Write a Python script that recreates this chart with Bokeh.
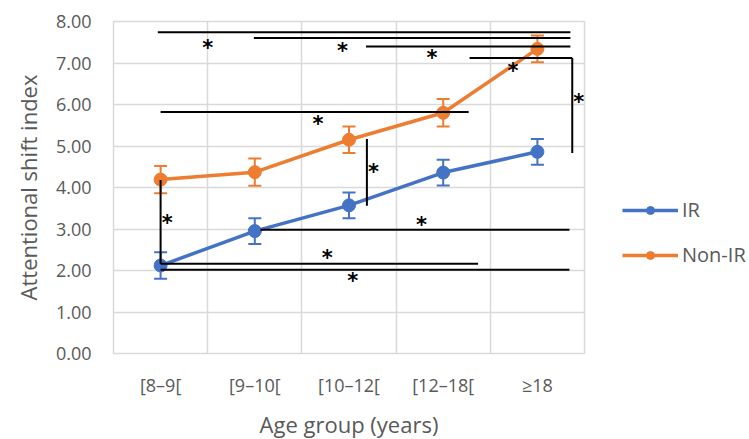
from bokeh.plotting import figure
from bokeh.models import (ColumnDataSource, FixedTicker, Whisker, TeeHead, Legend, LegendItem)
from bokeh.core.properties import value
from bokeh.embed import file_html
from bokeh.resources import INLINE

categories = ["[8–9[", "[9–10[", "[10–12[", "[12–18[", "≥18"]
positions = [1, 2, 3, 4, 5]
ir_mean = [2.12, 2.95, 3.57, 4.36, 4.86]
ir_err = [0.32, 0.31, 0.31, 0.31, 0.31]
nonir_mean = [4.19, 4.37, 5.15, 5.80, 7.34]
nonir_err = [0.33, 0.33, 0.32, 0.33, 0.32]

# significance brackets (data coordinates)
sig_x0 = [0.97, 1.99, 3.18, 4.28, 5.37, 1.00, 3.19, 1.00, 2.06, 1.00, 1.00]
sig_x1 = [5.35, 5.35, 5.35, 5.37, 5.37, 4.27, 3.19, 1.00, 5.34, 4.37, 5.34]
sig_y0 = [7.74, 7.60, 7.40, 7.12, 4.83, 5.82, 3.56, 2.16, 2.98, 2.16, 2.02]
sig_y1 = [7.74, 7.60, 7.40, 7.12, 7.12, 5.82, 5.17, 4.18, 2.98, 2.16, 2.02]
star_x = [1.50, 2.93, 3.88, 4.74, 5.44, 2.67, 3.26, 1.07, 2.77, 3.77, 3.04]
star_y = [7.45, 7.38, 7.21, 6.90, 6.15, 5.63, 4.47, 3.25, 2.40, 3.20, 1.85]

BLUE = "#4472C4"
ORANGE = "#ED7D31"
GRID = "#D9D9D9"
TXT = "#595959"
FONT = "Open Sans"

p = figure(frame_width=471, frame_height=332, output_backend="svg", toolbar_location=None,
           x_range=(0.5, 5.5), y_range=(0, 8),
           min_border_left=113, min_border_right=157, min_border_top=21, min_border_bottom=78)
p.outline_line_color = GRID
p.outline_line_width = 1.5

p.xaxis.ticker = FixedTicker(ticks=positions)
p.xaxis.major_label_overrides = {pos: c for pos, c in zip(positions, categories)}
p.yaxis.ticker = FixedTicker(ticks=list(range(0, 9)))
p.yaxis.major_label_overrides = {i: f"{i:.2f}" for i in range(0, 9)}
p.xgrid.ticker = FixedTicker(ticks=[0.5, 1.5, 2.5, 3.5, 4.5, 5.5])
p.grid.grid_line_color = GRID
p.grid.grid_line_width = 1.5

for ax in (p.xaxis, p.yaxis):
    ax.axis_line_color = None
    ax.major_tick_line_color = None
    ax.minor_tick_line_color = None
    ax.major_tick_out = 0
    ax.major_label_text_font = FONT
    ax.major_label_text_font_size = "18px"
    ax.major_label_text_color = TXT
    ax.axis_label_text_font = FONT
    ax.axis_label_text_font_size = "22px"
    ax.axis_label_text_color = TXT
    ax.axis_label_text_font_style = "normal"

p.yaxis.major_label_standoff = 22
p.xaxis.major_label_standoff = 19
p.xaxis.axis_label = "Age group (years)"
p.yaxis.axis_label = "Attentional shift index"
p.xaxis.axis_label_standoff = 9
p.yaxis.axis_label_standoff = 10

src_ir = ColumnDataSource(dict(x=positions, y=ir_mean,
                               lo=[m - e for m, e in zip(ir_mean, ir_err)],
                               hi=[m + e for m, e in zip(ir_mean, ir_err)]))
src_non = ColumnDataSource(dict(x=positions, y=nonir_mean,
                                lo=[m - e for m, e in zip(nonir_mean, nonir_err)],
                                hi=[m + e for m, e in zip(nonir_mean, nonir_err)]))

items = []
for src, col, name in ((src_ir, BLUE, "IR"), (src_non, ORANGE, "Non-IR")):
    w = Whisker(base="x", upper="hi", lower="lo", source=src, dimension="height",
                line_color=col, line_width=2,
                upper_head=TeeHead(size=13, line_color=col, line_width=2),
                lower_head=TeeHead(size=13, line_color=col, line_width=2))
    p.add_layout(w)
    ln = p.line("x", "y", source=src, line_color=col, line_width=3.5)
    sc = p.scatter("x", "y", source=src, size=13, fill_color=col, line_color=col)
    items.append(LegendItem(label=name, renderers=[ln, sc]))

p.segment(x0=sig_x0, y0=sig_y0, x1=sig_x1, y1=sig_y1, line_color="black", line_width=2)
p.text(x=star_x, y=star_y, text=["*"] * len(star_x), text_font=value("DejaVu Sans"),
       text_font_size="21px", text_font_style="bold", text_align="center",
       text_baseline="middle", text_color="black", y_offset=4)

legend = Legend(items=items, location=(38, 85), orientation="vertical",
                glyph_width=56, glyph_height=20, label_height=20, spacing=18,
                label_standoff=4, padding=0, margin=0,
                border_line_color=None, background_fill_alpha=0,
                label_text_font=FONT, label_text_font_size="20px", label_text_color=TXT)
p.add_layout(legend, "right")

open("out.html", "w").write(file_html(p, INLINE))
